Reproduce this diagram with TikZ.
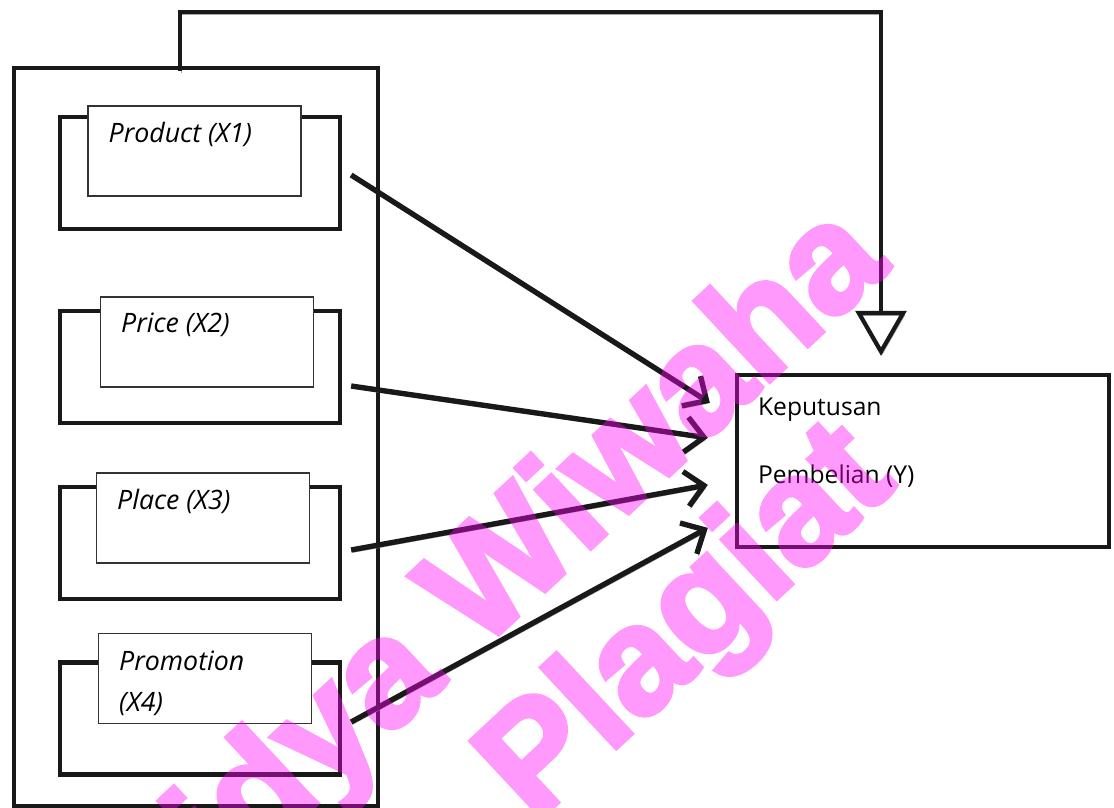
\documentclass[tikz,border=0pt]{standalone}
\usepackage{fontspec}
\setmainfont{Open Sans}
\newfontfamily\wmfont[BoldFeatures={FakeBold=3}]{Liberation Sans}
\usetikzlibrary{arrows.meta,positioning}
\definecolor{wmpink}{RGB}{255,0,245}

\begin{document}
\begin{tikzpicture}[x=0.025cm,y=-0.025cm]
    \tikzstyle{shadowed}=[preaction={draw=black!35,transform canvas={shift={(1pt,-1.8pt)}}}]
    \tikzstyle{frame}=[draw=black!90,line width=2.8pt,minimum width=9.1cm,minimum height=18.45cm]
    \tikzstyle{varbox}=[draw=black!90,line width=3pt,minimum width=7cm,minimum height=2.8cm]
    \tikzstyle{tag}=[draw=black!80,line width=0.8pt,fill=white,minimum width=5.325cm,minimum height=2.25cm]
    \tikzstyle{lbl}=[anchor=north west,inner sep=0pt,align=left,font=\fontsize{19}{29}\selectfont\itshape]
    \tikzstyle{link}=[shadowed,line width=3.8pt,draw=black!90,-{Straight Barb[length=13pt,width=25pt]}]
    \tikzstyle{wm}=[text=wmpink,inner sep=0pt,rotate=43,font=\wmfont\bfseries\fontsize{108}{108}\selectfont]
    \useasboundingbox (0,0) rectangle (1114,808);

    \node[frame] (mix) at (196,437) {};

    \node[varbox] (v1) at (200,173) {};
    \node[tag] (t1) at (194.5,151) {};
    \node[lbl] (l1) at ([shift={(21,16)}]t1.north west) {Product (X1)};

    \node[varbox] (v2) at (200,367) {};
    \node[tag] (t2) at (207,342) {};
    \node[lbl] (l2) at ([shift={(21,16)}]t2.north west) {Price (X2)};

    \node[varbox] (v3) at (200,543) {};
    \node[tag] (t3) at (203,518) {};
    \node[lbl] (l3) at ([shift={(21,16)}]t3.north west) {Place (X3)};

    \node[varbox] (v4) at (200,718.5) {};
    \node[tag] (t4) at (205,678.5) {};
    \node[lbl] (l4) at ([shift={(21,18)}]t4.north west) {Promotion\\(X4)};

    \node[draw=black!90,line width=3pt,minimum width=9.3cm,minimum height=4.3cm] (kp) at (923,461) {};
    \node[anchor=north west,inner sep=0pt,align=left,font=\fontsize{17.5}{48}\selectfont] (kpl)
      at ([shift={(23,25)}]kp.north west) {Keputusan\\Pembelian (Y)};

    \draw[link] ([shift={(9,2)}]v1.east) -- ([shift={(-25,30)}]kp.north west);
    \draw[link] ([shift={(9,19)}]v2.east) -- ([shift={(-27,65)}]kp.north west);
    \draw[link] ([shift={(9,7)}]v3.east) -- ([shift={(-27,112)}]kp.north west);
    \draw[link] ([shift={(9,3.5)}]v4.east) -- ([shift={(-27,155)}]kp.north west);

    \coordinate (fbs) at ([shift={(-16,5)}]mix.north);
    \coordinate (fbt) at (180,12);
    \coordinate (fbe) at ([shift={(-42,-17)}]kp.north);
    \draw[shadowed,line width=3pt,draw=black!90,-{Triangle[open,length=32pt,width=36pt]}] (fbs) -- (fbt) -| (fbe);

    \begin{scope}[transparency group,opacity=0.4]
      \node[wm] (wm1) at (480,598) {Widya Wiwaha};
      \node[wm] (wm2) at (690,626) {Plagiat};
    \end{scope}
\end{tikzpicture}
\end{document}
